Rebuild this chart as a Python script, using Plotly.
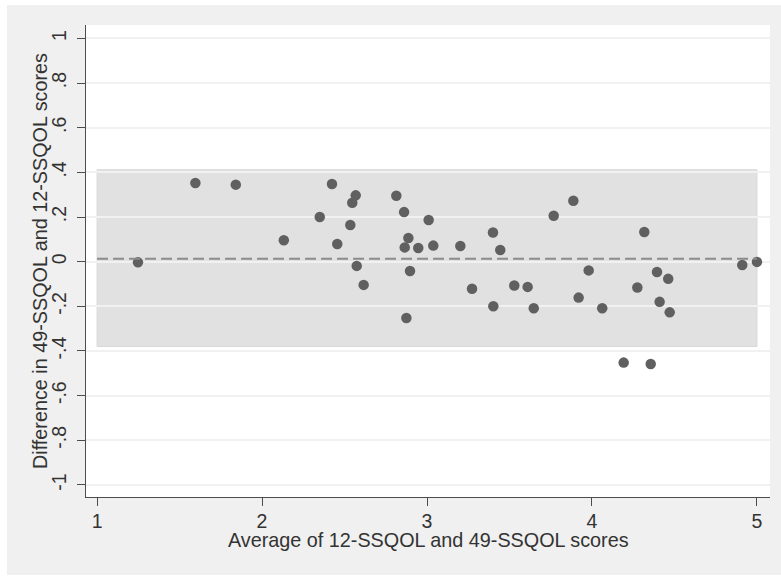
import plotly.graph_objects as go

# Data (Bland-Altman plot)
avg_scores = [1.248, 1.596, 1.841, 2.132, 2.350, 2.424, 2.456, 2.535, 2.547, 2.568,
              2.574, 2.616, 2.814, 2.861, 2.887, 2.865, 2.947, 2.897, 2.875, 3.010,
              3.038, 3.202, 3.273, 3.400, 3.444, 3.402, 3.529, 3.610, 3.647, 3.768,
              3.887, 3.980, 3.919, 4.062, 4.192, 4.275, 4.317, 4.356, 4.394, 4.410,
              4.462, 4.471, 4.911, 5.000]
diff_scores = [-0.003, 0.352, 0.345, 0.096, 0.200, 0.348, 0.079, 0.164, 0.264, 0.297,
               -0.019, -0.104, 0.295, 0.222, 0.106, 0.064, 0.061, -0.042, -0.252, 0.187,
               0.072, 0.070, -0.121, 0.131, 0.052, -0.200, -0.107, -0.113, -0.209, 0.206,
               0.273, -0.039, -0.161, -0.209, -0.452, -0.116, 0.133, -0.458, -0.046, -0.180,
               -0.077, -0.227, -0.015, -0.001]

mean_diff = 0.013
upper_loa = 0.412
lower_loa = -0.380
band_x = [1, 5]

x_ticks = [1, 2, 3, 4, 5]
x_ticklabels = ["1", "2", "3", "4", "5"]
y_ticks = [-1, -0.8, -0.6, -0.4, -0.2, 0, 0.2, 0.4, 0.6, 0.8, 1]
y_ticklabels = ["-1", "-.8", "-.6", "-.4", "-.2", "0", ".2", ".4", ".6", ".8", "1"]

x_title = "Average of 12-SSQOL and 49-SSQOL scores"
y_title = "Difference in 49-SSQOL and 12-SSQOL scores"

FONT = "Liberation Sans, Arial, Helvetica, sans-serif"
FS = 19.5
TXT = "#333333"

fig = go.Figure()

fig.add_trace(go.Scatter(
    x=avg_scores, y=diff_scores, mode="markers",
    marker=dict(size=10.5, color="#606060", line=dict(width=0)),
    showlegend=False, hoverinfo="x+y",
))

# limits-of-agreement band
fig.add_shape(type="rect", xref="x", yref="y",
              x0=band_x[0], x1=band_x[1], y0=lower_loa, y1=upper_loa,
              fillcolor="#e1e1e1", line=dict(color="#d9d9d9", width=1), layer="below")
# mean difference
fig.add_shape(type="line", xref="x", yref="y",
              x0=band_x[0], x1=band_x[1], y0=mean_diff, y1=mean_diff,
              line=dict(color="#8a8a8a", width=2, dash="11px,5px"), layer="above")

# white page strips outside the gray frame
fig.add_shape(type="rect", xref="paper", yref="paper",
              x0=-86/684, x1=(695)/684, y0=1 + 20/472, y1=1 + 25/472,
              fillcolor="white", line=dict(width=0), layer="above")
fig.add_shape(type="rect", xref="paper", yref="paper",
              x0=-86/684, x1=-79/684, y0=-80/472, y1=1 + 25/472,
              fillcolor="white", line=dict(width=0), layer="above")
fig.add_shape(type="rect", xref="paper", yref="paper",
              x0=-86/684, x1=695/684, y0=-80/472, y1=-78/472,
              fillcolor="white", line=dict(width=0), layer="above")

fig.add_annotation(text=x_title, xref="paper", yref="paper",
                   x=0.5, y=-(540 - 497) / 472, xanchor="center", yanchor="middle",
                   showarrow=False, font=dict(family=FONT, size=19.8, color=TXT))
fig.add_annotation(text=y_title, xref="paper", yref="paper",
                   x=(40 - 86) / 684, y=0.5, xanchor="center", yanchor="middle",
                   textangle=-90, showarrow=False,
                   font=dict(family=FONT, size=19.8, color=TXT))

fig.update_xaxes(
    range=[0.933, 5.079], tickvals=x_ticks, ticktext=x_ticklabels,
    showgrid=False, zeroline=False, showline=True, linecolor="#4d4d4d", linewidth=1.3,
    ticks="outside", ticklen=8, tickcolor="#4d4d4d", tickwidth=1.2,
    ticklabelstandoff=-2, automargin=False,
    tickfont=dict(family=FONT, size=FS, color=TXT),
)
fig.update_yaxes(
    range=[-1.054, 1.060], tickvals=y_ticks, ticktext=y_ticklabels,
    showgrid=True, gridcolor="#f1f1f1", gridwidth=1.5, zeroline=False,
    showline=True, linecolor="#4d4d4d", linewidth=1.3,
    ticks="outside", ticklen=8, tickcolor="#4d4d4d", tickwidth=1.2,
    ticklabelstandoff=3, automargin=False,
    tickangle=-90, tickfont=dict(family=FONT, size=FS, color=TXT),
)

fig.update_layout(
    width=781, height=577,
    margin=dict(l=86, r=11, t=25, b=80, pad=0),
    paper_bgcolor="#f0f0f0", plot_bgcolor="white",
    showlegend=False,
)

fig.write_html("out.html", config={"displayModeBar": False},
               post_script="document.body.style.margin='0';document.body.style.padding='0';")
